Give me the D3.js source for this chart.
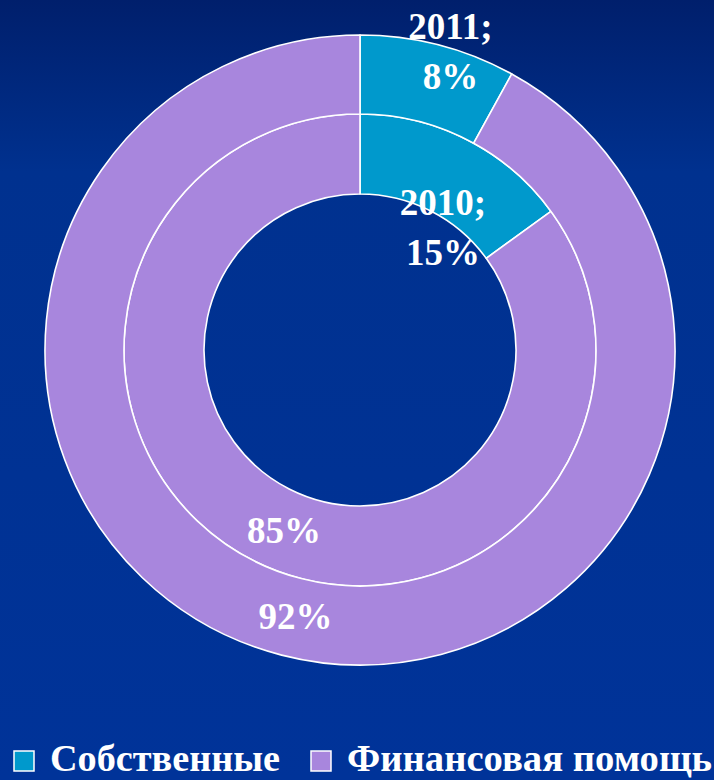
<!DOCTYPE html>
<html>
<head>
<meta charset="utf-8">
<script src="https://cdn.jsdelivr.net/npm/d3@7"></script>
<style>
    body { margin: 0; background: #003399; }
    svg { display: block; }
    .lbl { font-family: "Liberation Serif", "Times New Roman", serif; font-weight: bold; fill: #fff; }
</style>
</head>
<body>
<svg width="714" height="780"></svg>
<script>
// data
var categories = ["Собственные", "Финансовая помощь"];
var years = ["2010", "2011"];            // inner ring, outer ring
var values2010 = [15, 85];
var values2011 = [8, 92];
var colors = ["#0099cc", "#a886dd"];

var svg = d3.select("svg"),
    width = +svg.attr("width"),
    height = +svg.attr("height");

// background gradient
var defs = svg.append("defs");
var grad = defs.append("linearGradient")
    .attr("id", "bg")
    .attr("x1", 0).attr("y1", 0).attr("x2", 0).attr("y2", 1);
grad.append("stop").attr("offset", "0%").attr("stop-color", "#001f6c");
grad.append("stop").attr("offset", "22%").attr("stop-color", "#00318f");
grad.append("stop").attr("offset", "100%").attr("stop-color", "#003399");
svg.append("rect").attr("width", width).attr("height", height).attr("fill", "url(#bg)");

var cx = 360, cy = 350;
var rings = [
    { year: years[0], values: values2010, r0: 156, r1: 236 },
    { year: years[1], values: values2011, r0: 236, r1: 315 }
];

// label nudges (dx, dy) away from the centroid, like the original
var nudge = {
    "2010-0": [-6, 53], "2010-1": [13, 6],
    "2011-0": [22, -31], "2011-1": [4, 0]
};

var pie = d3.pie().sort(null).value(function (d) { return d; });
var color = d3.scaleOrdinal().domain(categories).range(colors);

var g = svg.append("g").attr("transform", "translate(" + cx + "," + cy + ")");

rings.forEach(function (ring) {
    var arc = d3.arc().innerRadius(ring.r0).outerRadius(ring.r1);
    var arcs = pie(ring.values);

    g.append("g").selectAll("path")
        .data(arcs)
        .enter().append("path")
        .attr("d", arc)
        .attr("fill", function (d, i) { return color(categories[i]); })
        .attr("stroke", "#fff")
        .attr("stroke-width", 1.6)
        .attr("stroke-linejoin", "round");

    arcs.forEach(function (d, i) {
        var c = arc.centroid(d),
            n = nudge[ring.year + "-" + i],
            x = c[0] + n[0],
            y = c[1] + n[1];
        var lines = i === 0 ? [ring.year + ";", d.data + "%"] : [d.data + "%"];
        var t = g.append("text")
            .attr("class", "lbl")
            .attr("text-anchor", "middle")
            .attr("font-size", 37);
        lines.forEach(function (s, k) {
            t.append("tspan")
                .attr("x", x)
                .attr("y", y + 12 - (lines.length - 1) * 25 + k * 50)
                .text(s);
        });
    });
});

// legend
var legendX = [14, 311],
    legendW = [230, 365];
var legend = svg.append("g").selectAll("g")
    .data(categories)
    .enter().append("g")
    .attr("transform", function (d, i) { return "translate(" + legendX[i] + ",751)"; });

legend.append("rect")
    .attr("width", 20)
    .attr("height", 20)
    .attr("fill", function (d) { return color(d); })
    .attr("stroke", "#fff")
    .attr("stroke-width", 1.5);

legend.append("text")
    .attr("class", "lbl")
    .attr("x", 36)
    .attr("y", 20)
    .attr("font-size", 38)
    .attr("textLength", function (d, i) { return legendW[i]; })
    .attr("lengthAdjust", "spacingAndGlyphs")
    .text(function (d) { return d; });
</script>
</body>
</html>
